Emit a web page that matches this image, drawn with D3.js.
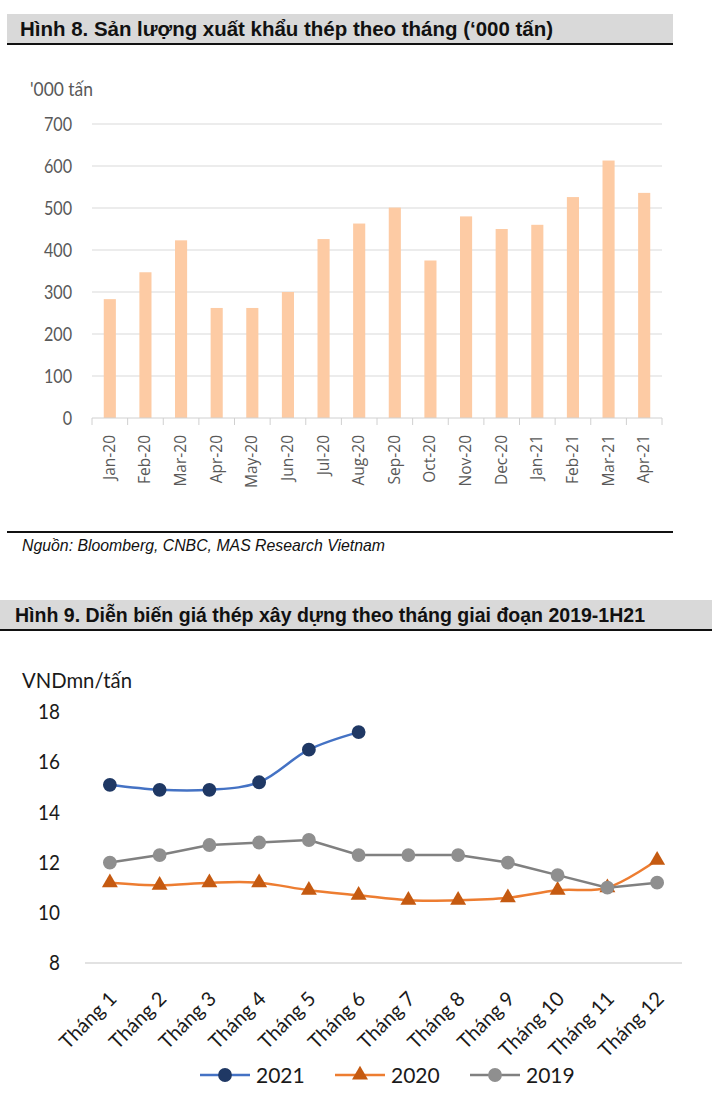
<!DOCTYPE html>
<html>
<head>
<meta charset="utf-8">
<script src="https://cdnjs.cloudflare.com/ajax/libs/d3/7.8.5/d3.min.js"></script>
<style>
  body { margin: 0; background: #fff; }
  .title { font-family: "Liberation Sans Narrow", "Arial Narrow", "Liberation Sans", sans-serif; font-weight: bold; fill: #111; }
  .source { font-family: "Liberation Sans Narrow", "Arial Narrow", "Liberation Sans", sans-serif; font-style: italic; fill: #111; }
</style>
</head>
<body>
<svg id="chart" width="712" height="1101"></svg>
<script>
// --- Hình 8 data: monthly steel exports ('000 tons)
var exportMonths = ['Jan-20','Feb-20','Mar-20','Apr-20','May-20','Jun-20','Jul-20','Aug-20',
                    'Sep-20','Oct-20','Nov-20','Dec-20','Jan-21','Feb-21','Mar-21','Apr-21'];
var exportValues = [283, 347, 423, 262, 262, 300, 426, 463, 501, 375, 480, 450, 460, 526, 613, 536];
var exportTicks = [0, 100, 200, 300, 400, 500, 600, 700];

// --- Hình 9 data: construction steel price (VNDmn/tấn)
var priceMonths = ['Tháng 1','Tháng 2','Tháng 3','Tháng 4','Tháng 5','Tháng 6',
                   'Tháng 7','Tháng 8','Tháng 9','Tháng 10','Tháng 11','Tháng 12'];
var price2021 = [15.1, 14.9, 14.9, 15.2, 16.5, 17.2];
var price2020 = [11.2, 11.1, 11.2, 11.2, 10.9, 10.7, 10.5, 10.5, 10.6, 10.9, 11.0, 12.1];
var price2019 = [12.0, 12.3, 12.7, 12.8, 12.9, 12.3, 12.3, 12.3, 12.0, 11.5, 11.0, 11.2];
var priceTicks = [8, 10, 12, 14, 16, 18];

var svg = d3.select('#chart');

// ---------- Figure 8 ----------
svg.append('rect').attr('x', 7).attr('y', 14).attr('width', 666).attr('height', 30).attr('fill', '#d9d9d9');
svg.append('line').attr('x1', 7).attr('x2', 673).attr('y1', 44).attr('y2', 44).attr('stroke', '#111').attr('stroke-width', 2);
svg.append('text').attr('class', 'title').attr('x', 20).attr('y', 36).attr('font-size', 21)
  .attr('textLength', 533).attr('lengthAdjust', 'spacingAndGlyphs')
  .text('Hình 8. Sản lượng xuất khẩu thép theo tháng (‘000 tấn)');

var x1 = d3.scaleBand().domain(exportMonths).range([92, 662]).paddingInner(0.66).paddingOuter(0.33);
var y1 = d3.scaleLinear().domain([0, 700]).range([418, 124]);

var g1 = svg.append('g');
// gridlines
g1.selectAll('line.grid').data(exportTicks.slice(1)).enter().append('line')
  .attr('x1', 92).attr('x2', 662)
  .attr('y1', function(d){ return y1(d); }).attr('y2', function(d){ return y1(d); })
  .attr('stroke', '#d9d9d9').attr('stroke-width', 1);

// labels in this figure look vertically stretched, so squeeze them horizontally
var yAxis1 = d3.axisLeft(y1).tickValues(exportTicks).tickSize(0).tickPadding(0);
g1.append('g').attr('transform', 'translate(72,0)').call(yAxis1)
  .call(function(g){ g.select('.domain').remove(); })
  .selectAll('text').attr('font-family', 'Lato, sans-serif').attr('font-size', 19).attr('fill', '#595959')
  .attr('transform', 'scale(0.85,1)');

svg.append('text').attr('x', 30).attr('y', 96).attr('font-family', 'Lato, sans-serif')
  .attr('font-size', 19).attr('fill', '#595959').attr('textLength', 63).attr('lengthAdjust', 'spacingAndGlyphs')
  .text("'000 tấn");

// bars
g1.selectAll('rect.bar').data(exportValues).enter().append('rect')
  .attr('x', function(d, i){ return x1(exportMonths[i]); })
  .attr('width', x1.bandwidth())
  .attr('y', function(d){ return y1(d); })
  .attr('height', function(d){ return y1(0) - y1(d); })
  .attr('fill', '#fdcba4');

// x axis with boundary ticks
var step = x1.step();
g1.append('line').attr('x1', 92).attr('x2', 662).attr('y1', 418).attr('y2', 418).attr('stroke', '#d0d0d0');
g1.selectAll('line.tick').data(d3.range(exportMonths.length + 1)).enter().append('line')
  .attr('x1', function(d){ return 92 + d * step; }).attr('x2', function(d){ return 92 + d * step; })
  .attr('y1', 418).attr('y2', 425).attr('stroke', '#d0d0d0');
g1.selectAll('text.xl').data(exportMonths).enter().append('text')
  .attr('transform', function(d){ return 'translate(' + (x1(d) + x1.bandwidth() / 2 + 5) + ',435) rotate(-90)'; })
  .attr('text-anchor', 'end')
  .attr('font-family', '"Open Sans", sans-serif').attr('font-size', 15.5).attr('fill', '#595959')
  .text(function(d){ return d; });

svg.append('line').attr('x1', 7).attr('x2', 673).attr('y1', 532).attr('y2', 532).attr('stroke', '#111').attr('stroke-width', 2);
svg.append('text').attr('class', 'source').attr('x', 22).attr('y', 551).attr('font-size', 17)
  .attr('textLength', 363).attr('lengthAdjust', 'spacingAndGlyphs')
  .text('Nguồn: Bloomberg, CNBC, MAS Research Vietnam');

// ---------- Figure 9 ----------
svg.append('rect').attr('x', 0).attr('y', 600).attr('width', 712).attr('height', 30).attr('fill', '#d9d9d9');
svg.append('line').attr('x1', 0).attr('x2', 712).attr('y1', 630).attr('y2', 630).attr('stroke', '#111').attr('stroke-width', 2);
svg.append('text').attr('class', 'title').attr('x', 15).attr('y', 622).attr('font-size', 21)
  .attr('textLength', 630).attr('lengthAdjust', 'spacingAndGlyphs')
  .text('Hình 9. Diễn biến giá thép xây dựng theo tháng giai đoạn 2019-1H21');

var x2 = d3.scalePoint().domain(priceMonths).range([85, 682]).padding(0.5);
var y2 = d3.scaleLinear().domain([8, 18]).range([963, 712]);

var g2 = svg.append('g');
g2.append('line').attr('x1', 85).attr('x2', 682).attr('y1', y2(8)).attr('y2', y2(8)).attr('stroke', '#d9d9d9').attr('stroke-width', 1.5);

var yAxis2 = d3.axisLeft(y2).tickValues(priceTicks).tickSize(0).tickPadding(0);
g2.append('g').attr('transform', 'translate(60,0)').call(yAxis2)
  .call(function(g){ g.select('.domain').remove(); })
  .selectAll('text').attr('font-family', 'Lato, sans-serif').attr('font-size', 21).attr('fill', '#1a1a1a')
  .attr('transform', 'scale(0.9,1)');

svg.append('text').attr('x', 22).attr('y', 688).attr('font-family', 'Lato, sans-serif')
  .attr('font-size', 21).attr('fill', '#1a1a1a').attr('textLength', 110).attr('lengthAdjust', 'spacingAndGlyphs')
  .text('VNDmn/tấn');

g2.selectAll('text.xl').data(priceMonths).enter().append('text')
  .attr('transform', function(d){ return 'translate(' + (x2(d) + 8) + ',1000) rotate(-45)'; })
  .attr('text-anchor', 'end')
  .attr('font-family', 'Lato, sans-serif').attr('font-size', 20).attr('fill', '#1a1a1a')
  .text(function(d){ return d; });

var series = [
  {name: '2020', values: price2020, line: '#ed7d31', marker: '#c55a11', symbol: d3.symbolTriangle, curve: d3.curveCatmullRom},
  {name: '2019', values: price2019, line: '#808080', marker: '#8f8f8f', symbol: d3.symbolCircle, curve: d3.curveLinear},
  {name: '2021', values: price2021, line: '#4472c4', marker: '#1f3864', symbol: d3.symbolCircle, curve: d3.curveCatmullRom}
];

function symbolSize(s){ return s === d3.symbolTriangle ? 110 : 150; }

series.forEach(function(s){
  var line = d3.line()
    .x(function(d, i){ return x2(priceMonths[i]); })
    .y(function(d){ return y2(d); })
    .curve(s.curve);
  g2.append('path').datum(s.values).attr('d', line)
    .attr('fill', 'none').attr('stroke', s.line).attr('stroke-width', 2.5);
  g2.selectAll(null).data(s.values).enter().append('path')
    .attr('transform', function(d, i){ return 'translate(' + x2(priceMonths[i]) + ',' + y2(d) + ')'; })
    .attr('d', d3.symbol().type(s.symbol).size(symbolSize(s.symbol)))
    .attr('fill', s.marker);
});

// legend
var legendItems = [series[2], series[0], series[1]];
var legendX = [200, 335, 470];
legendItems.forEach(function(s, i){
  var lg = svg.append('g').attr('transform', 'translate(' + legendX[i] + ',1075)');
  lg.append('line').attr('x1', 0).attr('x2', 50).attr('y1', 0).attr('y2', 0).attr('stroke', s.line).attr('stroke-width', 2.5);
  lg.append('path').attr('transform', 'translate(25,0)')
    .attr('d', d3.symbol().type(s.symbol).size(symbolSize(s.symbol))).attr('fill', s.marker);
  lg.append('text').attr('x', 56).attr('y', 8).attr('font-family', 'Lato, sans-serif')
    .attr('font-size', 21).attr('fill', '#1a1a1a').text(s.name);
});
</script>
</body>
</html>
